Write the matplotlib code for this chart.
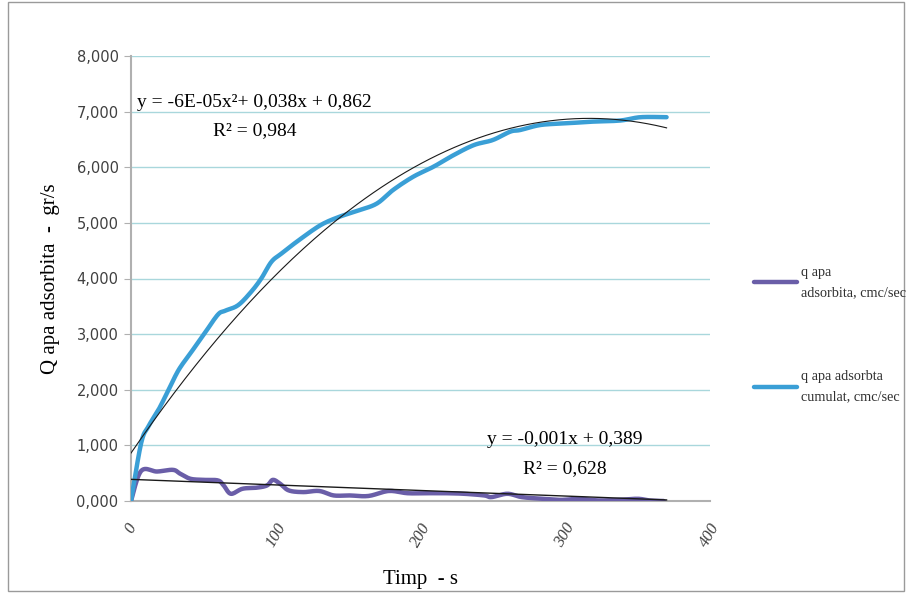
import numpy as np
import matplotlib
matplotlib.use("Agg")
import matplotlib.pyplot as plt
from matplotlib.patches import Rectangle
from matplotlib.ticker import FuncFormatter

# q apa adsorbta cumulat
cum_t = [0, 7, 12, 19, 26, 33, 42, 51, 60, 65, 74, 83, 90, 97, 104, 116,
         131, 144, 158, 170, 181, 195, 209, 223, 237, 250, 262, 269, 283,
         301, 319, 338, 352, 370]
cum_q = [0.0, 1.04, 1.34, 1.64, 2.0, 2.36, 2.69, 3.02, 3.35, 3.42, 3.52,
         3.76, 4.0, 4.3, 4.45, 4.69, 4.96, 5.11, 5.23, 5.35, 5.59, 5.83,
         6.01, 6.22, 6.4, 6.49, 6.64, 6.67, 6.76, 6.79, 6.82, 6.84, 6.9, 6.9]

# q apa adsorbita
ads_t = [0, 7, 18, 29, 34, 41, 50, 60, 64, 69, 77, 87, 94, 98, 103, 109,
         119, 130, 140, 151, 164, 178, 191, 204, 217, 230, 244, 249, 260,
         270, 284, 297, 310, 323, 337, 350, 358, 368]
ads_q = [0.0, 0.54, 0.53, 0.56, 0.49, 0.40, 0.38, 0.37, 0.28, 0.13, 0.22,
         0.24, 0.28, 0.38, 0.31, 0.19, 0.16, 0.18, 0.10, 0.10, 0.09, 0.18,
         0.14, 0.14, 0.14, 0.13, 0.10, 0.07, 0.13, 0.07, 0.04, 0.02, 0.04,
         0.01, 0.02, 0.04, 0.01, 0.0]

# trend line coefficients as printed on the chart
poly_cum = [-6e-05, 0.038, 0.862]
poly_ads = [-0.001, 0.389]
trend_end = 370


def smooth(x, y, n=12):
    # catmull-rom through the points, like excel's smoothed line
    x = np.asarray(x, float)
    y = np.asarray(y, float)
    px = np.concatenate([[x[0]], x, [x[-1]]])
    py = np.concatenate([[y[0]], y, [y[-1]]])
    t = np.linspace(0, 1, n, endpoint=False)
    xs, ys = [], []
    for i in range(1, len(px) - 2):
        for p, out in ((px, xs), (py, ys)):
            p0, p1, p2, p3 = p[i-1], p[i], p[i+1], p[i+2]
            out.extend(0.5 * (2*p1 + (-p0 + p2)*t + (2*p0 - 5*p1 + 4*p2 - p3)*t**2
                              + (-p0 + 3*p1 - 3*p2 + p3)*t**3))
    xs.append(x[-1])
    ys.append(y[-1])
    return xs, ys


plt.rcParams['font.family'] = ['DejaVu Sans']
serif = 'Liberation Serif'

fig = plt.figure(figsize=(9.07, 5.96), dpi=100)
ax = fig.add_axes([131/907, 1 - 501/596, (710-131)/907, (501-56)/596])

fig.patches.append(Rectangle((0.009, 0.008), 0.988, 0.988, transform=fig.transFigure,
                             fill=False, edgecolor='#9a9a9a', linewidth=1.0))

sx, sy = smooth(ads_t, ads_q)
ax.plot(sx, sy, color='#6a5ea8', linewidth=3.2, solid_capstyle='round',
        solid_joinstyle='round', label='q apa\nadsorbita, cmc/sec', zorder=3)
sx, sy = smooth(cum_t, cum_q)
ax.plot(sx, sy, color='#3a9fd6', linewidth=3.2, solid_capstyle='round',
        solid_joinstyle='round', label='q apa adsorbta\ncumulat, cmc/sec', zorder=4)

xt = np.linspace(0, trend_end, 200)
ax.plot(xt, np.polyval(poly_cum, xt), color='#1a1a1a', linewidth=0.8, zorder=5)
ax.plot(xt, np.polyval(poly_ads, xt), color='#1a1a1a', linewidth=1.0, zorder=5)

ax.set_xlim(0, 400)
ax.set_ylim(0, 8)
ax.set_yticks(np.arange(0, 9, 1))
ax.set_xticks([0, 100, 200, 300, 400])
ax.yaxis.set_major_formatter(FuncFormatter(lambda v, p: f"{v:.3f}".replace('.', ',')))
ax.grid(axis='y', color='#a9d7dc', linewidth=1.0)
ax.set_axisbelow(True)

for s in ['top', 'right']:
    ax.spines[s].set_visible(False)
ax.spines['left'].set_color('#b0b0b0')
ax.spines['bottom'].set_color('#b0b0b0')
ax.spines['left'].set_linewidth(1.5)
ax.spines['bottom'].set_linewidth(1.5)

ax.tick_params(axis='y', length=5, color='#b0b0b0', labelsize=10.5, labelcolor='#404040', pad=4)
ax.tick_params(axis='x', length=0, pad=14)
for lab in ax.get_xticklabels():
    lab.set_fontfamily(serif)
    lab.set_fontstyle('italic')
    lab.set_fontsize(12)
    lab.set_rotation(60)
    lab.set_color('#404040')
    lab.set_ha('center')
    lab.set_va('top')

ax.set_ylabel('Q apa adsorbita  -  gr/s', fontfamily=serif, fontsize=15, labelpad=12)
ax.set_xlabel('Timp  - s', fontfamily=serif, fontsize=15, labelpad=14)

ax.text(0.213, 0.895, 'y = -6E-05x²+ 0,038x + 0,862', transform=ax.transAxes,
        fontfamily=serif, fontsize=14, ha='center', va='center')
ax.text(0.213, 0.832, 'R² = 0,984', transform=ax.transAxes,
        fontfamily=serif, fontsize=14, ha='center', va='center')
ax.text(0.75, 0.138, 'y = -0,001x + 0,389', transform=ax.transAxes,
        fontfamily=serif, fontsize=14, ha='center', va='center')
ax.text(0.75, 0.073, 'R² = 0,628', transform=ax.transAxes,
        fontfamily=serif, fontsize=14, ha='center', va='center')

leg = fig.legend(loc='upper left', bbox_to_anchor=(741/907, 1 - 253/596), frameon=False,
                 prop={'family': serif, 'size': 10.3}, handlelength=3.0, labelspacing=5.0,
                 handletextpad=0.3)
for t in leg.get_texts():
    t.set_color('#303030')
    t.set_linespacing(1.7)

fig.savefig('out.png', dpi=100)
